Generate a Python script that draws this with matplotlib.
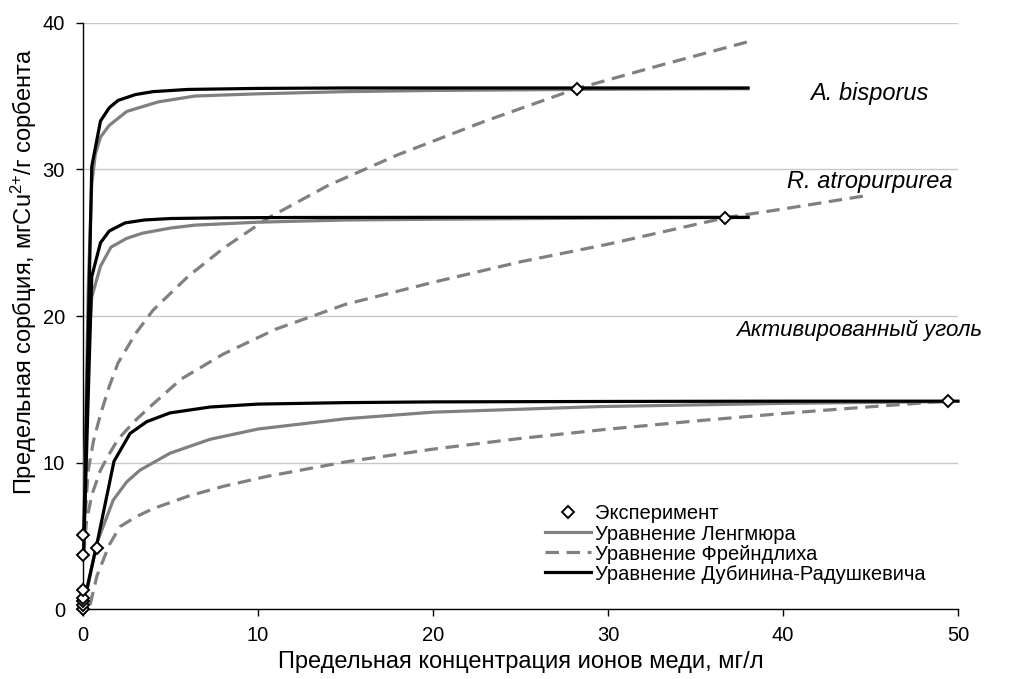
import matplotlib
matplotlib.use("Agg")
import matplotlib.pyplot as plt
from matplotlib.lines import Line2D

plt.rcParams['font.family'] = ['Liberation Sans', 'DejaVu Sans']
plt.rcParams['mathtext.fontset'] = 'custom'
plt.rcParams['mathtext.rm'] = 'Liberation Sans'
plt.rcParams['mathtext.it'] = 'Liberation Sans:italic'

# Experimental points (concentration, mg/l ; sorption, mg/g)
exp_x = [0.0, 0.0, 0.0, 0.0, 0.0, 0.0, 0.02, 0.8, 28.2, 36.7, 49.4]
exp_y = [0.0, 0.3, 0.55, 0.8, 1.3, 3.7, 5.1, 4.2, 35.5, 26.7, 14.2]

# A. bisporus
ab_dr_x = [0.05, 0.5, 1.0, 1.5, 2.0, 3.0, 4.0, 6.0, 10.0, 15.0, 20.0, 28.2, 38.0]
ab_dr_y = [5.1, 30.2, 33.3, 34.2, 34.7, 35.1, 35.3, 35.45, 35.52, 35.55, 35.55, 35.55, 35.55]
ab_l_x = [0.05, 0.3, 0.5, 0.7, 1.0, 1.5, 2.5, 4.3, 6.4, 10.0, 15.0, 20.0, 28.2, 38.0]
ab_l_y = [5.1, 22.0, 29.0, 31.0, 32.2, 33.0, 33.95, 34.6, 35.0, 35.15, 35.3, 35.38, 35.45, 35.5]
ab_f_x = [0.05, 0.3, 0.6, 1.0, 1.5, 2.0, 3.0, 4.0, 6.0, 8.0, 10.6, 14.0, 18.0, 23.0, 28.2, 33.0, 38.0]
ab_f_y = [5.1, 9.5, 11.5, 13.3, 15.2, 16.8, 18.8, 20.4, 22.7, 24.6, 26.7, 28.9, 31.0, 33.3, 35.5, 37.1, 38.7]

# R. atropurpurea
ra_dr_x = [0.03, 0.5, 1.0, 1.5, 2.4, 3.5, 5.0, 8.0, 12.0, 20.0, 30.0, 36.7, 38.0]
ra_dr_y = [3.7, 22.7, 25.0, 25.8, 26.35, 26.55, 26.65, 26.7, 26.72, 26.73, 26.73, 26.73, 26.73]
ra_l_x = [0.03, 0.2, 0.5, 1.0, 1.6, 2.5, 3.4, 5.0, 6.4, 10.0, 15.0, 20.0, 30.0, 38.0]
ra_l_y = [3.7, 15.5, 21.3, 23.4, 24.7, 25.3, 25.65, 26.0, 26.2, 26.4, 26.55, 26.6, 26.68, 26.72]
ra_f_x = [0.03, 0.2, 0.5, 1.0, 1.45, 2.0, 3.0, 4.0, 5.6, 8.0, 11.0, 15.0, 20.0, 25.0, 30.0, 36.7, 40.0, 44.7]
ra_f_y = [3.7, 6.0, 7.8, 9.5, 10.5, 11.6, 12.9, 14.0, 15.7, 17.4, 19.1, 20.8, 22.3, 23.7, 24.9, 26.7, 27.3, 28.2]

# Activated carbon
ac_dr_x = [0.2, 0.8, 1.77, 2.69, 3.64, 4.97, 7.26, 10.0, 15.0, 20.0, 30.0, 40.0, 49.4, 50.0]
ac_dr_y = [1.3, 4.5, 10.1, 12.0, 12.8, 13.4, 13.8, 14.0, 14.1, 14.15, 14.18, 14.2, 14.2, 14.2]
ac_l_x = [0.25, 0.78, 1.73, 2.5, 3.26, 4.97, 7.26, 10.0, 15.0, 20.0, 29.5, 40.0, 49.4]
ac_l_y = [1.4, 4.5, 7.46, 8.7, 9.5, 10.65, 11.6, 12.3, 13.0, 13.45, 13.83, 14.05, 14.17]
ac_f_x = [0.4, 0.8, 1.5, 2.11, 3.0, 4.0, 6.0, 8.0, 10.5, 15.0, 20.0, 25.0, 29.9, 35.0, 40.0, 45.0, 49.4]
ac_f_y = [0.3, 2.3, 4.4, 5.64, 6.3, 6.87, 7.72, 8.39, 9.07, 10.06, 10.93, 11.66, 12.28, 12.85, 13.36, 13.82, 14.2]

x_ticks = [0, 10, 20, 30, 40, 50]
y_ticks = [0, 10, 20, 30, 40]

GREY = '#808080'
lw_grey = 2.3
lw_black = 2.3
dash = (0, (4.2, 2.4))

fig = plt.figure(figsize=(10.11, 6.79), dpi=100)
ax = fig.add_axes([0.0821, 0.1024, 0.8655, 0.8642])

for fx, fy in [(ab_f_x, ab_f_y), (ra_f_x, ra_f_y), (ac_f_x, ac_f_y)]:
    ax.plot(fx, fy, color=GREY, lw=lw_grey, linestyle=dash, zorder=2, clip_on=False)
for lx, ly in [(ab_l_x, ab_l_y), (ra_l_x, ra_l_y), (ac_l_x, ac_l_y)]:
    ax.plot(lx, ly, color=GREY, lw=lw_grey, zorder=3, clip_on=False)
for dx, dy in [(ab_dr_x, ab_dr_y), (ra_dr_x, ra_dr_y), (ac_dr_x, ac_dr_y)]:
    ax.plot(dx, dy, color='black', lw=lw_black, zorder=4, clip_on=False)
ax.plot(exp_x, exp_y, linestyle='none', marker='D', markersize=6.5,
        markerfacecolor='white', markeredgecolor='black', markeredgewidth=1.4,
        zorder=5, clip_on=False)

ax.set_xlim(0, 50)
ax.set_ylim(0, 40)
ax.set_xticks(x_ticks)
ax.set_yticks(y_ticks)
ax.tick_params(axis='both', labelsize=14.5, direction='out', length=5, width=1, color='black')
ax.tick_params(axis='x', pad=7)
ax.tick_params(axis='y', pad=8)
ax.yaxis.grid(True, color='#c8c8c8', lw=1)
ax.set_axisbelow(True)
for s in ['top', 'right']:
    ax.spines[s].set_visible(False)
for s in ['left', 'bottom']:
    ax.spines[s].set_linewidth(1)

ax.set_xlabel('Предельная концентрация ионов меди, мг/л', fontsize=17, labelpad=4)
fig.text(0.024, 0.60, 'Предельная сорбция, мгCu$^{2{+}}$/г сорбента', fontsize=17,
         rotation=90, ha='center', va='center')

ax.text(0.860, 0.863, 'A. bisporus', transform=fig.transFigure, fontsize=17,
        style='italic', ha='center', va='center')
ax.text(0.860, 0.733, 'R. atropurpurea', transform=fig.transFigure, fontsize=17,
        style='italic', ha='center', va='center')
ax.text(0.850, 0.513, 'Активированный уголь', transform=fig.transFigure, fontsize=16,
        style='italic', ha='center', va='center')

handles = [
    Line2D([], [], linestyle='none', marker='D', markersize=6.5, markerfacecolor='white',
           markeredgecolor='black', markeredgewidth=1.4),
    Line2D([], [], color=GREY, lw=lw_grey),
    Line2D([], [], color=GREY, lw=lw_grey, linestyle=dash),
    Line2D([], [], color='black', lw=lw_black),
]
labels = ['Эксперимент', 'Уравнение Ленгмюра', 'Уравнение Фрейндлиха',
          'Уравнение Дубинина-Радушкевича']
fig.legend(handles, labels, loc='upper left', bbox_to_anchor=(0.539, 0.257),
           frameon=False, fontsize=14.5, handlelength=2.3, handletextpad=0.2,
           labelspacing=0.05, borderaxespad=0, borderpad=0)

fig.savefig('out.png', dpi=100)
